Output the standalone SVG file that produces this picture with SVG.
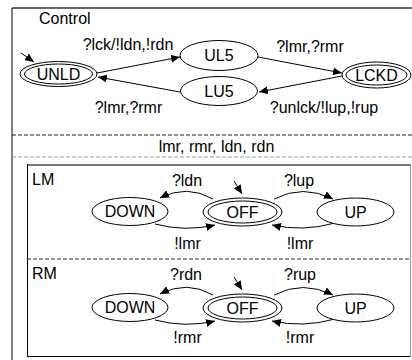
<svg xmlns="http://www.w3.org/2000/svg" width="412" height="360" viewBox="0 0 412 360">
<style>
text{font-family:"Liberation Sans",Arial,sans-serif;font-size:16px;fill:#000}
.c{text-anchor:middle}
.n{fill:#fff;stroke:#000;stroke-width:1}
.e{fill:none;stroke:#000;stroke-width:1}
</style>
<defs>
<marker id="ah" markerWidth="10" markerHeight="8" refX="9" refY="4" orient="auto" markerUnits="userSpaceOnUse">
<path d="M0,0 L9,4 L0,8 z" fill="#000"/>
</marker>
</defs>
<rect width="412" height="360" fill="#fff"/>
<g id="frame">
<line x1="12" y1="8" x2="412" y2="8" stroke="#333" stroke-width="1.5"/>
<line x1="12" y1="8" x2="12" y2="360" stroke="#000" stroke-width="1"/>
<line x1="12" y1="135" x2="412" y2="135" stroke="#222" stroke-dasharray="4,2"/>
<line x1="12" y1="157" x2="412" y2="157" stroke="#999" stroke-dasharray="4,2"/>
<text x="216.5" y="152" class="c">lmr, rmr, ldn, rdn</text>
<text x="39" y="24">Control</text>
<line x1="27" y1="165" x2="411" y2="165" stroke="#777" stroke-width="2"/>
<line x1="27.5" y1="164" x2="27.5" y2="357" stroke="#000"/>
<line x1="27" y1="356.5" x2="411" y2="356.5" stroke="#000"/>
<line x1="410.5" y1="165" x2="410.5" y2="357" stroke="#999"/>
<line x1="27" y1="259" x2="411" y2="259" stroke="#222" stroke-dasharray="4,2"/>
<text x="32" y="185">LM</text>
<text x="32" y="279">RM</text>
</g>
<g id="connectors">
<path class="e" d="M21,53 L34,62" marker-end="url(#ah)"/>
<path class="e" d="M97,73 L180,57" marker-end="url(#ah)"/>
<path class="e" d="M180,92 L98,77" marker-end="url(#ah)"/>
<path class="e" d="M258,57 L342,73" marker-end="url(#ah)"/>
<path class="e" d="M342,76 L259,92" marker-end="url(#ah)"/>
<path class="e" d="M213,199 Q187,184 160,198" marker-end="url(#ah)"/>
<path class="e" d="M155,224 Q185,232 215,225" marker-end="url(#ah)"/>
<path class="e" d="M274,199 Q303,184 333,199" marker-end="url(#ah)"/>
<path class="e" d="M335,223 Q303,232 272,225" marker-end="url(#ah)"/>
<path class="e" d="M234,181 L242,194" marker-end="url(#ah)"/>
<path class="e" d="M213,295 Q187,280 160,294" marker-end="url(#ah)"/>
<path class="e" d="M155,320 Q185,328 215,321" marker-end="url(#ah)"/>
<path class="e" d="M274,295 Q303,280 333,295" marker-end="url(#ah)"/>
<path class="e" d="M335,319 Q303,328 272,321" marker-end="url(#ah)"/>
<path class="e" d="M234,277 L242,290" marker-end="url(#ah)"/>
<text x="128" y="50" class="c">?lck/!ldn,!rdn</text>
<text x="128.5" y="113" class="c">?lmr,?rmr</text>
<text x="310" y="52" class="c">?lmr,?rmr</text>
<text x="324" y="113" class="c">?unlck/!lup,!rup</text>
<text x="187" y="186" class="c">?ldn</text>
<text x="299" y="186" class="c">?lup</text>
<text x="187.5" y="249" class="c">!lmr</text>
<text x="300" y="249" class="c">!lmr</text>
<text x="186" y="280" class="c">?rdn</text>
<text x="300" y="280" class="c">?rup</text>
<text x="187.5" y="343" class="c">!rmr</text>
<text x="300" y="343" class="c">!rmr</text>
</g>
<g id="UNLD">
<ellipse class="n" cx="58.5" cy="74" rx="38.5" ry="12.5"/>
<ellipse class="n" cx="58.5" cy="74" rx="34" ry="10"/>
<text x="58.5" y="79.5" class="c">UNLD</text>
</g>
<g id="UL5">
<ellipse class="n" cx="219" cy="55.5" rx="39" ry="15"/>
<text x="219" y="61" class="c">UL5</text>
</g>
<g id="LU5">
<ellipse class="n" cx="219" cy="91" rx="38.5" ry="14.5"/>
<text x="219" y="96.5" class="c">LU5</text>
</g>
<g id="LCKD">
<ellipse class="n" cx="376.5" cy="75" rx="34.5" ry="13"/>
<ellipse class="n" cx="376.5" cy="75" rx="30.5" ry="10"/>
<text x="376.5" y="80.5" class="c">LCKD</text>
</g>
<g id="LM_DOWN">
<ellipse class="n" cx="130" cy="211.5" rx="38" ry="14"/>
<text x="130" y="217" class="c">DOWN</text>
</g>
<g id="LM_OFF">
<ellipse class="n" cx="242.5" cy="212" rx="39.5" ry="14"/>
<ellipse class="n" cx="242.5" cy="212" rx="34.5" ry="11"/>
<text x="242.5" y="217.5" class="c">OFF</text>
</g>
<g id="LM_UP">
<ellipse class="n" cx="355.5" cy="212" rx="38.5" ry="14"/>
<text x="355.5" y="217.5" class="c">UP</text>
</g>
<g id="RM_DOWN">
<ellipse class="n" cx="130" cy="307.5" rx="38" ry="14"/>
<text x="130" y="313" class="c">DOWN</text>
</g>
<g id="RM_OFF">
<ellipse class="n" cx="242.5" cy="308" rx="39.5" ry="14"/>
<ellipse class="n" cx="242.5" cy="308" rx="34.5" ry="11"/>
<text x="242.5" y="313.5" class="c">OFF</text>
</g>
<g id="RM_UP">
<ellipse class="n" cx="355.5" cy="308" rx="38.5" ry="14"/>
<text x="355.5" y="313.5" class="c">UP</text>
</g>
</svg>
